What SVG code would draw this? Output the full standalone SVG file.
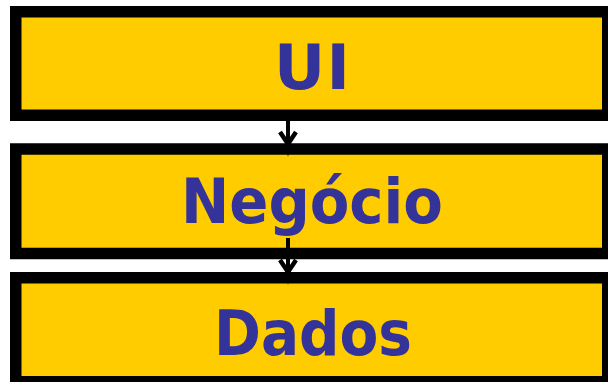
<svg xmlns="http://www.w3.org/2000/svg" width="608" height="382" viewBox="0 0 608 382">
  <style>
    .box { fill: #FFCC00; stroke: #000000; stroke-width: 11.5; }
    .label { font-family: "DejaVu Sans", Verdana, sans-serif; font-weight: bold; font-size: 63px; fill: #333399; text-anchor: middle; }
    .link { stroke: #000000; stroke-width: 4; fill: none; }
    .head { stroke: #000000; stroke-width: 4.5; fill: none; stroke-linejoin: miter; }
  </style>
  <rect width="608" height="382" fill="#FFFFFF"/>

  <!-- layers -->
  <g id="ui">
    <rect class="box" x="15.75" y="11.75" width="592" height="103.5"/>
    <text class="label" x="312" y="89" textLength="76" lengthAdjust="spacing">UI</text>
  </g>
  <g id="negocio">
    <rect class="box" x="15.75" y="149" width="592" height="104.5"/>
    <text class="label" x="312" y="223" textLength="262" lengthAdjust="spacingAndGlyphs">Negócio</text>
  </g>
  <g id="dados">
    <rect class="box" x="15.75" y="277.75" width="592" height="104"/>
    <text class="label" x="313" y="355" textLength="198" lengthAdjust="spacingAndGlyphs">Dados</text>
  </g>

  <!-- connectors -->
  <g id="connectors">
    <line class="link" x1="288" y1="116" x2="288" y2="150"/>
    <polyline class="head" points="280,132 288,144 296,132"/>
    <polygon points="285.5,144 290.5,144 288,157" fill="#000000"/>

    <line class="link" x1="288" y1="238" x2="288" y2="275"/>
    <polyline class="head" points="280,260 288,272 296,260"/>
    <polygon points="285.5,272 290.5,272 288,285" fill="#000000"/>
  </g>
</svg>
